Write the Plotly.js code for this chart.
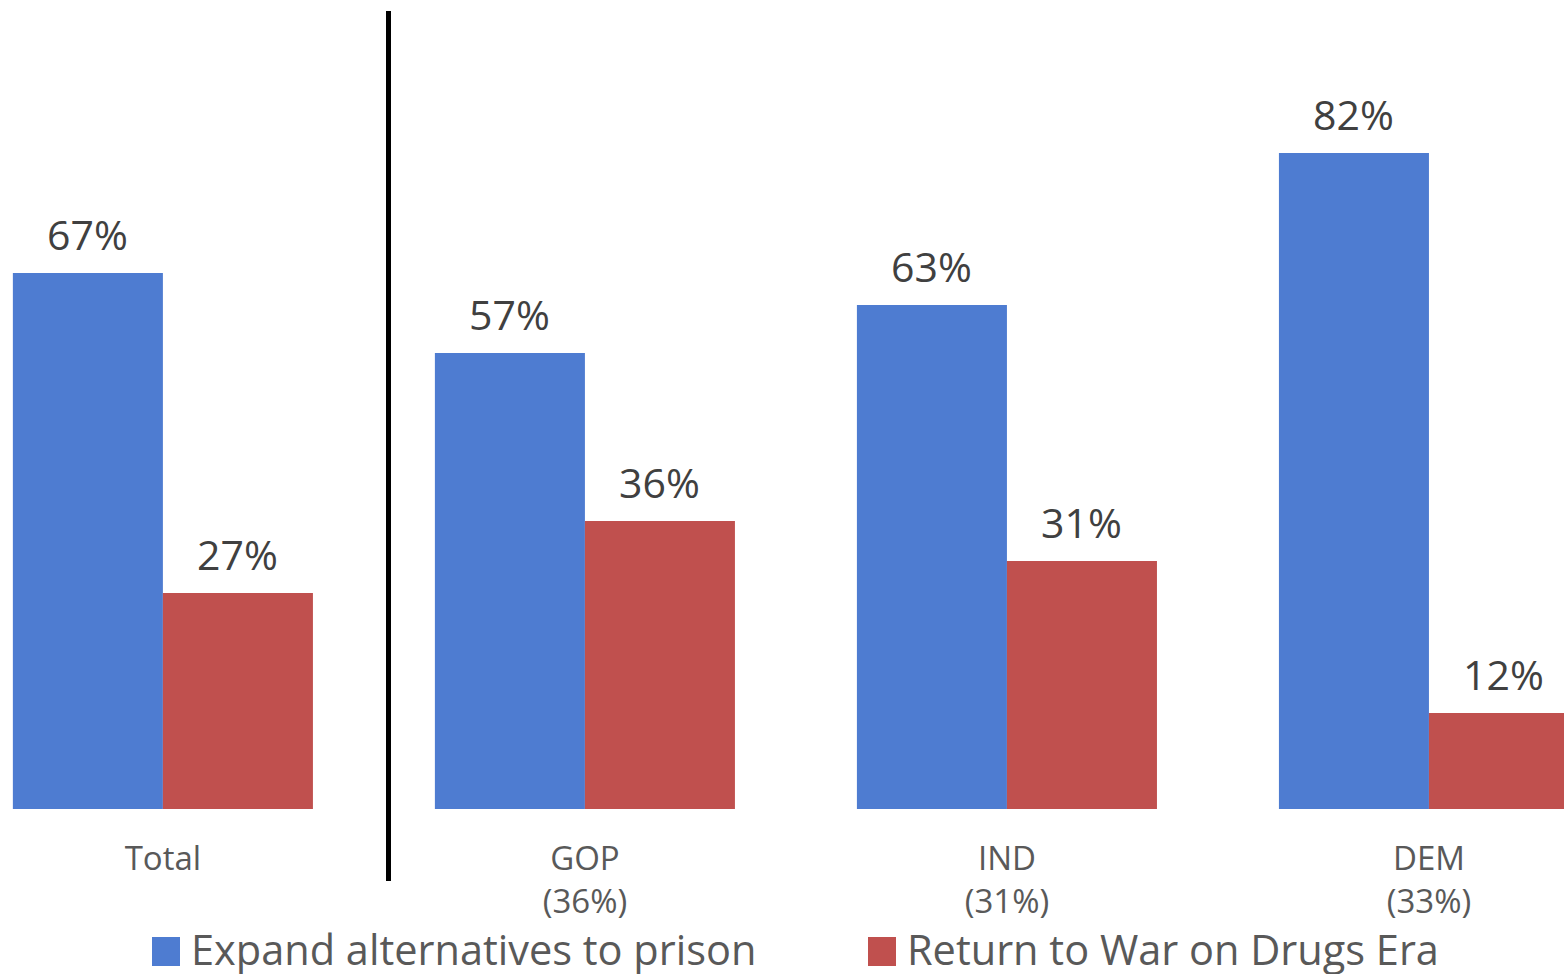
<!DOCTYPE html>
<html>
<head>
<meta charset="utf-8">
<script src="https://cdn.plot.ly/plotly-3.0.1.min.js"></script>
<style>html,body{margin:0;padding:0;background:#fff;}#chart{width:1564px;height:974px;}</style>
</head>
<body>
<div id="chart"></div>
<script>
const categories = ["Total", "GOP", "IND", "DEM"];
const tickLabels = ["Total", "GOP<br>(36%)", "IND<br>(31%)", "DEM<br>(33%)"];
const seriesNames = ["Expand alternatives to prison", "Return to War on Drugs Era"];
const expandValues = [67, 57, 63, 82];
const returnValues = [27, 36, 31, 12];
const colors = ["#4E7CD1", "#C0504E"];

const W = 1564, H = 974, plotBottom = 809;
const px = v => v / W;
const py = v => (plotBottom - v) / plotBottom;

const xIdx = categories.map((c, i) => i);
const mk = (vals, i) => ({
  type: 'bar', x: xIdx, y: vals, name: seriesNames[i],
  marker: {color: colors[i], line: {width: 0}},
  showlegend: false, hoverinfo: 'none'
});

const legendX = [152, 868];
const shapes = [{
  type: 'line', xref: 'paper', yref: 'paper',
  x0: px(388.5), x1: px(388.5), y0: py(881), y1: py(11),
  line: {color: '#000', width: 5}
}];
const annotations = [];
seriesNames.forEach((n, i) => {
  shapes.push({type: 'rect', xref: 'paper', yref: 'paper',
    x0: px(legendX[i]), x1: px(legendX[i] + 28), y0: py(966), y1: py(937),
    fillcolor: colors[i], line: {width: 0}});
  annotations.push({xref: 'paper', yref: 'paper', x: px(legendX[i] + 38), y: py(949),
    xanchor: 'left', yanchor: 'middle', text: n, showarrow: false, borderpad: 0,
    font: {family: 'Open Sans', size: 41.5, color: '#595959'}});
});
[expandValues, returnValues].forEach((vals, s) => {
  vals.forEach((v, i) => {
    annotations.push({x: i, y: v, xref: 'x', yref: 'y', xshift: s === 0 ? -75 : 75,
      yanchor: 'bottom', yshift: 9, text: v + '%', showarrow: false,
      font: {family: 'Open Sans', size: 41, color: '#404040'}});
  });
});

const layout = {
  width: W, height: H,
  margin: {l: 0, r: 0, t: 0, b: H - plotBottom, pad: 0},
  paper_bgcolor: '#fff', plot_bgcolor: '#fff',
  barmode: 'group', bargap: 0.289, bargroupgap: 0,
  showlegend: false,
  xaxis: {range: [-0.386, 3.320], tickmode: 'array', tickvals: xIdx, ticktext: tickLabels,
    showgrid: false, zeroline: false, showline: false, ticks: '', ticklabelstandoff: 27,
    tickfont: {family: 'Open Sans', size: 33, color: '#595959'}},
  yaxis: {range: [0, plotBottom / 8], visible: false, showgrid: false, zeroline: false},
  shapes: shapes, annotations: annotations
};

Plotly.newPlot('chart', [mk(expandValues, 0), mk(returnValues, 1)], layout, {displayModeBar: false, staticPlot: true});
</script>
</body>
</html>
